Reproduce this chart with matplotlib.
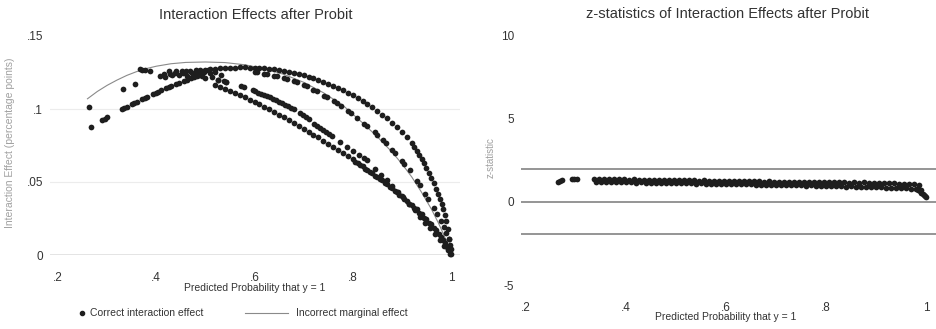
import matplotlib
matplotlib.use("Agg")
import matplotlib.pyplot as plt
from matplotlib.lines import Line2D

plt.rcParams["font.family"] = ["Liberation Sans", "DejaVu Sans"]

# ---- left panel: interaction effect vs predicted probability ----
p_early = [0.264, 0.268, 0.290, 0.295, 0.300, 0.333, 0.357, 0.366, 0.372, 0.378, 0.387]
ie_early = [0.1016, 0.0875, 0.0922, 0.0932, 0.0945, 0.1140, 0.1170, 0.1272, 0.1270, 0.1266, 0.1262]

p_rise = [0.330, 0.335, 0.340, 0.350, 0.355, 0.360, 0.372, 0.377, 0.382, 0.394, 0.399, 0.404,
          0.409, 0.420, 0.425, 0.430, 0.441, 0.446, 0.456, 0.462, 0.470, 0.476, 0.482, 0.488]
ie_rise = [0.1000, 0.1008, 0.1016, 0.1032, 0.1040, 0.1048, 0.1067, 0.1075, 0.1082, 0.1102, 0.1110, 0.1118,
           0.1127, 0.1144, 0.1150, 0.1157, 0.1171, 0.1178, 0.1191, 0.1199, 0.1209, 0.1217, 0.1224, 0.1230]

p_cluster = [0.408, 0.415, 0.418, 0.425, 0.428, 0.432, 0.438, 0.441, 0.446, 0.452, 0.455, 0.460,
             0.463, 0.469, 0.472, 0.476, 0.480, 0.483, 0.487, 0.490, 0.494, 0.497, 0.500, 0.505,
             0.510, 0.514, 0.520, 0.526, 0.531, 0.537, 0.543]
ie_cluster = [0.1227, 0.1239, 0.1222, 0.1257, 0.1241, 0.1230, 0.1250, 0.1262, 0.1236, 0.1261, 0.1244, 0.1258,
              0.1228, 0.1261, 0.1248, 0.1236, 0.1266, 0.1252, 0.1240, 0.1270, 0.1228, 0.1256, 0.1215, 0.1264,
              0.1244, 0.1222, 0.1252, 0.1200, 0.1236, 0.1195, 0.1186]

p_top = [0.480, 0.490, 0.500, 0.510, 0.520, 0.530, 0.540, 0.550, 0.560, 0.570, 0.580, 0.590,
         0.600, 0.610, 0.620, 0.630, 0.640, 0.650, 0.660, 0.670, 0.680, 0.690, 0.700, 0.710,
         0.720, 0.730, 0.740, 0.750, 0.760, 0.770, 0.780, 0.790, 0.800, 0.810, 0.820, 0.830,
         0.840, 0.850, 0.860, 0.870, 0.880, 0.890, 0.900, 0.910, 0.920, 0.925, 0.930, 0.935,
         0.940, 0.945, 0.950, 0.955, 0.960, 0.965, 0.970, 0.974, 0.978, 0.981, 0.984, 0.987,
         0.990, 0.993, 0.996, 0.999]
ie_top = [0.1255, 0.1262, 0.1268, 0.1272, 0.1276, 0.1279, 0.1281, 0.1283, 0.1284, 0.1285, 0.1285, 0.1284,
          0.1283, 0.1281, 0.1278, 0.1275, 0.1271, 0.1266, 0.1260, 0.1254, 0.1247, 0.1239, 0.1230, 0.1221,
          0.1210, 0.1199, 0.1187, 0.1174, 0.1160, 0.1145, 0.1129, 0.1112, 0.1094, 0.1075, 0.1055, 0.1034,
          0.1011, 0.0987, 0.0962, 0.0935, 0.0906, 0.0875, 0.0842, 0.0806, 0.0770, 0.0742, 0.0715, 0.0688,
          0.0660, 0.0630, 0.0598, 0.0565, 0.0530, 0.0494, 0.0455, 0.0420, 0.0382, 0.0350, 0.0315, 0.0275,
          0.0230, 0.0175, 0.0110, 0.0040]

p_dot = [0.600, 0.606, 0.620, 0.626, 0.640, 0.646, 0.660, 0.667, 0.680, 0.686, 0.700, 0.706,
         0.720, 0.727, 0.742, 0.748, 0.762, 0.768, 0.776, 0.790, 0.796, 0.808, 0.822, 0.828,
         0.845, 0.850, 0.862, 0.868, 0.880, 0.886, 0.900, 0.905, 0.916, 0.930, 0.936, 0.948,
         0.953, 0.965, 0.972, 0.980, 0.985, 0.990, 0.995, 0.998]
ie_dot = [0.1255, 0.1252, 0.1243, 0.1239, 0.1228, 0.1224, 0.1210, 0.1204, 0.1189, 0.1182, 0.1163, 0.1155,
          0.1133, 0.1122, 0.1092, 0.1080, 0.1053, 0.1040, 0.1020, 0.0985, 0.0970, 0.0940, 0.0900, 0.0885,
          0.0840, 0.0825, 0.0785, 0.0765, 0.0720, 0.0698, 0.0645, 0.0625, 0.0580, 0.0510, 0.0480, 0.0415,
          0.0385, 0.0320, 0.0280, 0.0230, 0.0195, 0.0150, 0.0110, 0.0070]

p_mid = [0.526, 0.543, 0.572, 0.578, 0.596, 0.602, 0.608, 0.614, 0.620, 0.626, 0.632, 0.638,
         0.644, 0.650, 0.656, 0.662, 0.668, 0.674, 0.680, 0.692, 0.698, 0.704, 0.710, 0.722,
         0.728, 0.734, 0.740, 0.746, 0.752, 0.758, 0.775, 0.788, 0.800, 0.812, 0.822, 0.828,
         0.845, 0.858, 0.869, 0.880, 0.892, 0.903, 0.915, 0.926, 0.937, 0.948, 0.958, 0.968,
         0.978, 0.986, 0.993, 0.998]
ie_mid = [0.1200, 0.1186, 0.1155, 0.1148, 0.1127, 0.1120, 0.1113, 0.1106, 0.1099, 0.1089, 0.1079, 0.1069,
          0.1059, 0.1049, 0.1039, 0.1029, 0.1019, 0.1009, 0.0999, 0.0975, 0.0960, 0.0945, 0.0930, 0.0900,
          0.0885, 0.0870, 0.0856, 0.0841, 0.0826, 0.0812, 0.0772, 0.0741, 0.0713, 0.0685, 0.0662, 0.0648,
          0.0592, 0.0548, 0.0511, 0.0474, 0.0434, 0.0398, 0.0350, 0.0305, 0.0261, 0.0220, 0.0183, 0.0143,
          0.0100, 0.0065, 0.0033, 0.0010]

p_low = [0.520, 0.530, 0.540, 0.550, 0.560, 0.570, 0.580, 0.590, 0.600, 0.610, 0.620, 0.630,
         0.640, 0.650, 0.660, 0.670, 0.680, 0.690, 0.700, 0.710, 0.720, 0.730, 0.740, 0.750,
         0.760, 0.770, 0.780, 0.790, 0.800, 0.810, 0.820, 0.830, 0.840, 0.850, 0.860, 0.870,
         0.880, 0.890, 0.900, 0.910, 0.920, 0.930, 0.940, 0.950, 0.960, 0.970, 0.980, 0.988,
         0.995, 1.000]
ie_low = [0.1163, 0.1150, 0.1138, 0.1125, 0.1111, 0.1096, 0.1080, 0.1064, 0.1048, 0.1031, 0.1014, 0.0997,
          0.0979, 0.0961, 0.0942, 0.0923, 0.0904, 0.0885, 0.0865, 0.0845, 0.0825, 0.0805, 0.0784, 0.0763,
          0.0742, 0.0721, 0.0699, 0.0677, 0.0655, 0.0632, 0.0609, 0.0585, 0.0561, 0.0536, 0.0511, 0.0485,
          0.0458, 0.0430, 0.0402, 0.0373, 0.0343, 0.0312, 0.0279, 0.0245, 0.0209, 0.0170, 0.0125, 0.0082,
          0.0040, 0.0008]

p_low2 = [0.805, 0.815, 0.825, 0.835, 0.845, 0.855, 0.865, 0.875, 0.885, 0.895, 0.905, 0.915,
          0.925, 0.935, 0.945, 0.955, 0.965, 0.975, 0.984, 0.992]
ie_low2 = [0.0638, 0.0615, 0.0591, 0.0567, 0.0543, 0.0518, 0.0492, 0.0466, 0.0438, 0.0410, 0.0382, 0.0352,
           0.0322, 0.0290, 0.0256, 0.0221, 0.0184, 0.0143, 0.0100, 0.0058]

# incorrect marginal effect (thin line)
p_line = [0.26, 0.28, 0.30, 0.32, 0.34, 0.36, 0.38, 0.40, 0.43, 0.46, 0.50, 0.54, 0.58, 0.62, 0.66,
          0.70, 0.74, 0.78, 0.82, 0.85, 0.88, 0.90, 0.92, 0.94, 0.96, 0.975, 0.985, 0.993, 1.0]
me_line = [0.1070, 0.1120, 0.1162, 0.1198, 0.1230, 0.1256, 0.1277, 0.1293, 0.1310, 0.1319, 0.1322,
           0.1318, 0.1303, 0.1276, 0.1237, 0.1183, 0.1112, 0.1025, 0.0905, 0.0810, 0.0705, 0.0625,
           0.0535, 0.0430, 0.0315, 0.0215, 0.0140, 0.0075, 0.0000]

# ---- right panel: z-statistics ----
pz_early = [0.263, 0.267, 0.271, 0.292, 0.296, 0.301]
z_early = [1.20, 1.27, 1.32, 1.34, 1.36, 1.34]

pz_row1 = [0.335, 0.345, 0.355, 0.365, 0.375, 0.385, 0.395, 0.405, 0.415, 0.425, 0.435, 0.445,
           0.455, 0.465, 0.475, 0.485, 0.495, 0.505, 0.515, 0.525, 0.535, 0.545, 0.555, 0.565,
           0.575, 0.585, 0.595, 0.605, 0.615, 0.625, 0.635, 0.645, 0.655, 0.665, 0.675, 0.685,
           0.695, 0.705, 0.715, 0.725, 0.735, 0.745, 0.755, 0.765, 0.775, 0.785, 0.795, 0.805,
           0.815, 0.825, 0.835, 0.845, 0.855, 0.865, 0.875, 0.885, 0.895, 0.905, 0.915, 0.925,
           0.935, 0.945, 0.955, 0.965, 0.975, 0.985]
z_row1 = [1.37, 1.35, 1.37, 1.35, 1.36, 1.34, 1.35, 1.33, 1.34, 1.33, 1.32, 1.33,
          1.31, 1.32, 1.30, 1.31, 1.29, 1.30, 1.28, 1.29, 1.28, 1.27, 1.28, 1.26,
          1.27, 1.25, 1.26, 1.24, 1.25, 1.23, 1.24, 1.23, 1.22, 1.23, 1.21, 1.22,
          1.20, 1.21, 1.19, 1.20, 1.19, 1.18, 1.19, 1.17, 1.18, 1.16, 1.18, 1.17,
          1.18, 1.16, 1.17, 1.15, 1.17, 1.15, 1.16, 1.14, 1.15, 1.13, 1.13, 1.11,
          1.11, 1.09, 1.08, 1.07, 1.05, 1.02]

pz_row2 = [0.340, 0.350, 0.360, 0.370, 0.380, 0.390, 0.400, 0.410, 0.420, 0.430, 0.440, 0.450,
           0.460, 0.470, 0.480, 0.490, 0.500, 0.510, 0.520, 0.530, 0.540, 0.550, 0.560, 0.570,
           0.580, 0.590, 0.600, 0.610, 0.620, 0.630, 0.640, 0.650, 0.660, 0.670, 0.680, 0.690,
           0.700, 0.710, 0.720, 0.730, 0.740, 0.750, 0.760, 0.770, 0.780, 0.790, 0.800, 0.810,
           0.820, 0.830, 0.840, 0.850, 0.860, 0.870, 0.880, 0.890, 0.900, 0.910, 0.920, 0.930,
           0.940, 0.950, 0.960, 0.970, 0.980, 0.990]
z_row2 = [1.19, 1.20, 1.18, 1.19, 1.17, 1.18, 1.16, 1.17, 1.15, 1.16, 1.14, 1.15,
          1.13, 1.14, 1.12, 1.13, 1.11, 1.12, 1.10, 1.10, 1.09, 1.10, 1.08, 1.09,
          1.07, 1.08, 1.06, 1.07, 1.05, 1.05, 1.04, 1.05, 1.03, 1.03, 1.02, 1.03,
          1.01, 1.01, 1.00, 1.00, 0.99, 0.99, 0.97, 0.98, 0.95, 0.96, 0.93, 0.94,
          0.92, 0.93, 0.91, 0.92, 0.90, 0.90, 0.89, 0.89, 0.87, 0.86, 0.85, 0.84,
          0.83, 0.81, 0.80, 0.78, 0.76, 0.72]

pz_tail = [0.983, 0.987, 0.990, 0.993, 0.995, 0.998, 1.000]
z_tail = [0.72, 0.62, 0.55, 0.48, 0.42, 0.36, 0.30]

x_ticks = [0.2, 0.4, 0.6, 0.8, 1.0]
x_ticklabels = [".2", ".4", ".6", ".8", "1"]
ie_ticks = [0, 0.05, 0.1, 0.15]
ie_ticklabels = ["0", ".05", ".1", ".15"]
z_ticks = [-5, 0, 5, 10]
z_ticklabels = ["-5", "0", "5", "10"]
z_crit = [-1.96, 0, 1.96]

dot_col = "#1e1e1e"
txt_col = "#333333"

fig = plt.figure(figsize=(9.36, 3.29), dpi=100)

# left panel
ax1 = fig.add_axes([50 / 936, 74 / 329, 410 / 936, 219 / 329])
p_all = p_early + p_rise + p_cluster + p_top + p_dot + p_mid + p_low + p_low2
ie_all = ie_early + ie_rise + ie_cluster + ie_top + ie_dot + ie_mid + ie_low + ie_low2
for yv in [0.05, 0.1]:
    ax1.axhline(yv, color="#ececec", lw=0.8, zorder=0)
ax1.axhline(0, color="#7a7a7a", lw=1.0, zorder=1)
ax1.plot(p_line, me_line, color="#8a8a8a", lw=0.8, zorder=2)
ax1.scatter(p_all, ie_all, s=17, color=dot_col, linewidths=0, zorder=3, clip_on=False)
ax1.set_xlim(0.2 - 8 / 491.25, 0.2 + 402 / 491.25)
ax1.set_ylim(0, 0.15)
ax1.set_xticks(x_ticks, x_ticklabels)
ax1.set_yticks(ie_ticks, ie_ticklabels)

# right panel
ax2 = fig.add_axes([521 / 936, 44 / 329, 415 / 936, 250 / 329])
for yv in z_crit:
    ax2.axhline(yv, color="#8c8c8c", lw=1.3, zorder=1)
pz_all = pz_early + pz_row1 + pz_row2 + pz_tail
z_all = z_early + z_row1 + z_row2 + z_tail
ax2.scatter(pz_all, z_all, s=17, color=dot_col, linewidths=0, zorder=3)
ax2.set_xlim(0.19, 1.02)
ax2.set_ylim(-5, 10)
ax2.set_xticks(x_ticks, x_ticklabels)
ax2.set_yticks(z_ticks, z_ticklabels)

for ax in (ax1, ax2):
    for s in ax.spines.values():
        s.set_visible(False)
    ax.tick_params(length=0, labelsize=8.5, labelcolor=txt_col)
    ax.tick_params(axis="x", pad=12)
    ax.tick_params(axis="y", pad=5)

ax1.set_xlabel("Predicted Probability that y = 1", fontsize=7.5, color=txt_col)
ax1.xaxis.set_label_coords(0.5, -0.128)
ax2.set_xlabel("Predicted Probability that y = 1", fontsize=7.5, color=txt_col)
ax2.xaxis.set_label_coords(0.494, -0.108)

fig.text(10 / 936, 1 - 143 / 329, "Interaction Effect (percentage points)", rotation=90,
         ha="center", va="center", fontsize=7.5, color="#a0a0a0")
fig.text(491 / 936, 1 - 158 / 329, "z-statistic", rotation=90,
         ha="center", va="center", fontsize=7, color="#a0a0a0")

fig.text(256 / 936, 1 - 15 / 329, "Interaction Effects after Probit", ha="center", va="center",
         fontsize=10.5, color=txt_col)
fig.text(728 / 936, 1 - 14 / 329, "z-statistics of Interaction Effects after Probit", ha="center",
         va="center", fontsize=10.5, color=txt_col)

# legend
ly = 1 - 313 / 329
fig.add_artist(Line2D([82 / 936], [ly], marker="o", markersize=3, color=dot_col, lw=0))
fig.text(90 / 936, ly, "Correct interaction effect", ha="left", va="center", fontsize=7.5, color=txt_col)
fig.add_artist(Line2D([245 / 936, 288 / 936], [ly, ly], color="#8a8a8a", lw=0.8))
fig.text(296 / 936, ly, "Incorrect marginal effect", ha="left", va="center", fontsize=7.5, color=txt_col)

fig.savefig("out.png", dpi=100)
